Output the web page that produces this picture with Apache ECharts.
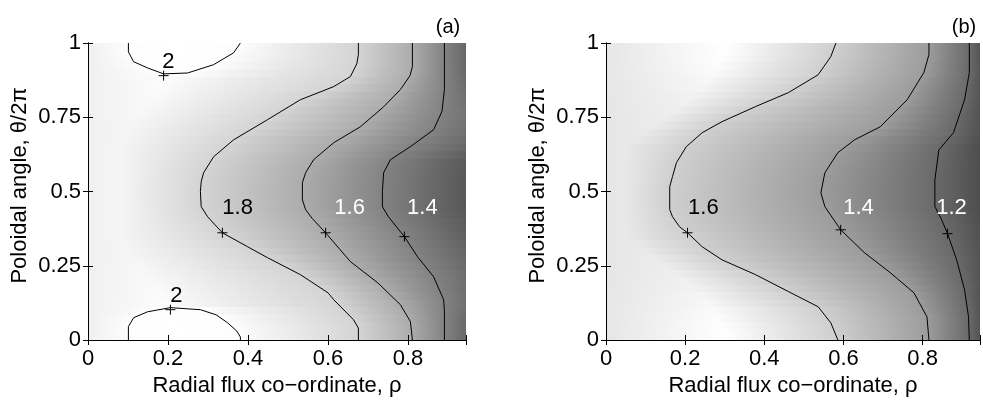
<!DOCTYPE html>
<html>
<head>
<meta charset="utf-8">
<script src="https://cdn.jsdelivr.net/npm/echarts@6/dist/echarts.min.js"></script>
<style>
  html, body { margin: 0; padding: 0; background: #fff; }
  #chart { width: 983px; height: 405px; }
</style>
</head>
<body>
<div id="chart"></div>
<script>
// Poloidal rows (theta / 2pi) at which the radial profiles are tabulated
const thetaRows = [0, 0.025, 0.05, 0.075, 0.1, 0.125, 0.15, 0.175, 0.2, 0.225, 0.25, 0.275, 0.3, 0.325,
                   0.35, 0.375, 0.4, 0.425, 0.45, 0.475, 0.5, 0.525, 0.55, 0.575, 0.6, 0.625, 0.65,
                   0.675, 0.7, 0.725, 0.75, 0.775, 0.8, 0.825, 0.85, 0.875, 0.9, 0.925, 0.95, 0.975, 1];
const ROW_STEP = 0.025;
const RHO_MAX = 0.945;

// ---------- panel (a) ----------
// value on the axis, off-axis maximum (position and value), crossings of each contour level, edge value
const aLeft    = [1.935,1.935,1.935,1.935,1.935,1.935,1.935,1.935,1.935,1.935,1.935,1.935,1.935,1.935,1.935,1.935,1.935,1.935,1.935,1.935,1.935,
                  1.935,1.935,1.935,1.935,1.935,1.935,1.935,1.935,1.935,1.935,1.935,1.935,1.935,1.935,1.935,1.935,1.935,1.935,1.935,1.935];
const aPeakRho = [0.22,0.22,0.21,0.205,0.2,0.19,0.18,0.165,0.15,0.135,0.12,0.11,0.1,0.09,
                  0.08,0.08,0.08,0.08,0.08,0.08,0.08,0.08,0.08,0.08,0.08,0.08,0.08,
                  0.09,0.1,0.11,0.12,0.135,0.15,0.165,0.18,0.19,0.215,0.22,0.22,0.22,0.22];
const aPeakVal = [2.05,2.05,2.04,2.025,2.01,1.995,1.99,1.985,1.98,1.975,1.97,1.965,1.96,1.96,
                  1.96,1.96,1.96,1.96,1.96,1.96,1.96,1.96,1.96,1.96,1.96,1.96,1.96,
                  1.96,1.96,1.965,1.97,1.975,1.98,1.985,1.99,1.995,2.005,2.025,2.04,2.05,2.05];
const a20In    = [0.101,0.101,0.103,0.114,0.169,null,null,null,null,null,null,null,null,null,null,null,null,null,null,null,null,
                  null,null,null,null,null,null,null,null,null,null,null,null,null,null,null,0.181,0.134,0.109,0.101,0.101];
const a20Out   = [0.381,0.374,0.355,0.331,0.286,null,null,null,null,null,null,null,null,null,null,null,null,null,null,null,null,
                  null,null,null,null,null,null,null,null,null,null,null,null,null,null,null,0.251,0.311,0.343,0.368,0.381];
const aRho18   = [0.676,0.676,0.672,0.659,0.640,0.622,0.605,0.582,0.554,0.524,0.488,0.452,0.418,0.384,0.351,0.326,0.309,0.294,0.283,0.282,0.281,
                  0.282,0.286,0.295,0.306,0.321,0.343,0.365,0.396,0.428,0.459,0.489,0.52,0.561,0.608,0.641,0.661,0.670,0.675,0.676,0.676];
const aRho16   = [0.811,0.809,0.807,0.800,0.789,0.776,0.757,0.738,0.717,0.693,0.669,0.649,0.633,0.617,0.601,0.584,0.567,0.552,0.541,0.536,0.536,
                  0.536,0.541,0.549,0.561,0.580,0.602,0.628,0.659,0.687,0.709,0.730,0.750,0.768,0.785,0.797,0.807,0.811,0.811,0.811,0.811];
const aRho14   = [0.891,0.891,0.891,0.891,0.891,0.890,0.884,0.876,0.868,0.857,0.842,0.827,0.814,0.802,0.790,0.775,0.760,0.747,0.736,0.736,0.736,
                  0.737,0.738,0.744,0.753,0.776,0.805,0.830,0.856,0.870,0.878,0.885,0.887,0.890,0.891,0.891,0.891,0.891,0.891,0.891,0.891];
const aRight   = [1.265,1.268,1.271,1.281,1.294,1.304,1.304,1.300,1.298,1.293,1.281,1.267,1.255,1.245,1.236,1.222,1.208,1.197,1.186,1.191,1.191,
                  1.192,1.19,1.194,1.20,1.228,1.262,1.286,1.31,1.318,1.321,1.323,1.315,1.31,1.298,1.285,1.271,1.265,1.265,1.265,1.265];

// contour lines of panel (a), [rho, theta/2pi]
const aLine20Low = [[0.101,0],[0.101,0.045],[0.114,0.075],[0.149,0.095],[0.206,0.109],[0.281,0.102],[0.32,0.085],[0.348,0.059],[0.372,0.03],[0.381,0.01],[0.381,0]];
const aLine20Up  = [[0.101,1],[0.101,0.97],[0.114,0.937],[0.149,0.916],[0.189,0.896],[0.249,0.899],[0.314,0.927],[0.364,0.967],[0.381,1]];
const aLine18 = [[0.676,0],[0.676,0.04],[0.664,0.068],[0.614,0.136],[0.60,0.159],[0.531,0.22],[0.449,0.277],[0.399,0.314],[0.336,0.361],[0.299,0.415],[0.283,0.449],[0.281,0.5],[0.283,0.533],[0.289,0.563],[0.314,0.617],[0.364,0.674],[0.449,0.742],[0.531,0.809],[0.614,0.853],[0.656,0.887],[0.672,0.93],[0.676,0.961],[0.676,1]];
const aLine16 = [[0.811,0],[0.806,0.062],[0.781,0.119],[0.724,0.193],[0.656,0.264],[0.594,0.361],[0.56,0.41],[0.544,0.439],[0.536,0.472],[0.536,0.53],[0.544,0.563],[0.564,0.607],[0.614,0.664],[0.681,0.718],[0.739,0.785],[0.781,0.843],[0.805,0.89],[0.811,0.92],[0.811,1]];
const aLine14 = [[0.891,0],[0.891,0.1],[0.889,0.136],[0.864,0.213],[0.824,0.28],[0.791,0.348],[0.751,0.415],[0.736,0.449],[0.736,0.5],[0.739,0.563],[0.756,0.607],[0.806,0.651],[0.864,0.708],[0.885,0.77],[0.891,0.843],[0.891,1]];

// contour label marks and texts of panel (a)
const aMarkRho    = [0.189, 0.206, 0.336, 0.594, 0.791];
const aMarkTheta  = [0.89, 0.102, 0.361, 0.361, 0.348];
const aLabelText  = ['2', '2', '1.8', '1.6', '1.4'];
const aLabelRho   = [0.201, 0.221, 0.374, 0.654, 0.836];
const aLabelTheta = [0.937, 0.149, 0.445, 0.445, 0.445];

// ---------- panel (b) ----------
const bLeft    = [1.69,1.69,1.69,1.69,1.69,1.69,1.69,1.69,1.69,1.69,1.69,1.69,1.69,1.69,1.69,1.69,1.69,1.69,1.69,1.69,1.69,
                  1.69,1.69,1.69,1.69,1.69,1.69,1.69,1.69,1.69,1.69,1.69,1.69,1.69,1.69,1.69,1.69,1.69,1.69,1.69,1.69];
const bPeakRho = [0.30,0.30,0.29,0.28,0.27,0.255,0.24,0.22,0.2,0.175,0.15,0.125,0.1,0.075,
                  0.05,0.05,0.05,0.05,0.05,0.05,0.05,0.05,0.05,0.05,0.05,0.05,0.05,
                  0.075,0.1,0.125,0.15,0.175,0.2,0.22,0.24,0.255,0.27,0.28,0.29,0.30,0.30];
const bPeakVal = [1.79,1.79,1.785,1.778,1.77,1.76,1.75,1.74,1.73,1.722,1.715,1.71,1.705,1.702,
                  1.70,1.70,1.70,1.70,1.70,1.70,1.70,1.70,1.70,1.70,1.70,1.70,1.70,
                  1.702,1.705,1.71,1.715,1.722,1.73,1.74,1.75,1.76,1.77,1.778,1.785,1.79,1.79];
const bRho16   = [0.586,0.578,0.570,0.558,0.543,0.517,0.480,0.444,0.407,0.370,0.327,0.287,0.259,0.234,0.215,0.192,0.176,0.165,0.161,0.161,0.161,
                  0.163,0.168,0.173,0.179,0.191,0.203,0.223,0.246,0.279,0.318,0.360,0.403,0.447,0.482,0.514,0.540,0.553,0.566,0.574,0.581];
const bRho14   = [0.816,0.814,0.813,0.811,0.802,0.792,0.782,0.764,0.742,0.720,0.696,0.671,0.648,0.629,0.609,0.591,0.578,0.565,0.553,0.547,0.543,
                  0.547,0.551,0.559,0.571,0.583,0.605,0.629,0.666,0.698,0.717,0.736,0.754,0.768,0.780,0.791,0.803,0.808,0.814,0.816,0.816];
const bRho12   = [0.918,0.917,0.917,0.916,0.914,0.911,0.908,0.905,0.900,0.895,0.890,0.885,0.878,0.872,0.865,0.858,0.850,0.840,0.831,0.831,0.831,
                  0.831,0.832,0.835,0.837,0.840,0.847,0.863,0.878,0.885,0.891,0.897,0.904,0.908,0.911,0.915,0.918,0.918,0.918,0.918,0.918];
const bRight   = [1.117,1.116,1.116,1.115,1.115,1.113,1.111,1.113,1.113,1.113,1.113,1.114,1.112,1.11,1.108,1.105,1.10,1.094,1.088,1.09,1.091,
                  1.09,1.09,1.09,1.089,1.089,1.089,1.10,1.107,1.106,1.108,1.11,1.115,1.117,1.118,1.122,1.123,1.121,1.118,1.117,1.117];

const bLine16 = [[0.586,0],[0.568,0.058],[0.536,0.112],[0.461,0.163],[0.378,0.22],[0.293,0.27],[0.243,0.314],[0.206,0.361],[0.186,0.381],[0.168,0.415],[0.161,0.439],[0.161,0.516],[0.168,0.55],[0.178,0.597],[0.203,0.651],[0.243,0.698],[0.293,0.735],[0.378,0.786],[0.461,0.833],[0.536,0.893],[0.568,0.954],[0.581,1]];
const bLine14 = [[0.816,0],[0.811,0.078],[0.778,0.159],[0.718,0.227],[0.653,0.294],[0.593,0.371],[0.553,0.449],[0.543,0.496],[0.553,0.563],[0.586,0.631],[0.628,0.674],[0.693,0.718],[0.761,0.809],[0.803,0.9],[0.816,0.961],[0.816,1]];
const bLine12 = [[0.918,0],[0.916,0.078],[0.906,0.169],[0.886,0.27],[0.863,0.358],[0.848,0.405],[0.831,0.449],[0.831,0.539],[0.841,0.64],[0.878,0.698],[0.906,0.809],[0.918,0.9],[0.918,1]];

const bMarkRho    = [0.206, 0.593, 0.863];
const bMarkTheta  = [0.361, 0.371, 0.358];
const bLabelText  = ['1.6', '1.4', '1.2'];
const bLabelRho   = [0.246, 0.638, 0.873];
const bLabelTheta = [0.445, 0.445, 0.445];

// tick values
const rhoTicks = [0, 0.2, 0.4, 0.6, 0.8];
const thetaTicks = [0, 0.25, 0.5, 0.75, 1];

const FONT = '"Liberation Sans", Arial, Helvetica, sans-serif';
const FS = 22;

// gray colour maps
function grayHex(g) {
  g = Math.max(0, Math.min(255, Math.round(g)));
  const h = g.toString(16).padStart(2, '0');
  return '#' + h + h + h;
}
const grayA = v => grayHex(245 + (v - 1.96) * 204);
const grayB = v => grayHex(255 + (v - 1.79) * 253);

// assemble radial knots [rho, value] for each poloidal row
function buildRows(left, peakRho, peakVal, ringIn, ringOut, ringVal, levels, right) {
  return thetaRows.map((t, i) => {
    const k = [[0, left[i]], [peakRho[i], peakVal[i]]];
    if (ringIn && ringIn[i] != null) { k.push([ringIn[i], ringVal]); k.push([ringOut[i], ringVal]); }
    levels.forEach(([val, arr]) => k.push([arr[i], val]));
    k.push([RHO_MAX, right[i]]);
    k.sort((p, q) => p[0] - q[0]);
    return k;
  });
}
const rowsA = buildRows(aLeft, aPeakRho, aPeakVal, a20In, a20Out, 2.0,
                        [[1.8, aRho18], [1.6, aRho16], [1.4, aRho14]], aRight);
const rowsB = buildRows(bLeft, bPeakRho, bPeakVal, null, null, 0,
                        [[1.6, bRho16], [1.4, bRho14], [1.2, bRho12]], bRight);

// each poloidal row is a band shaded along rho by its knots
function fillSeries(idx, rows, gray) {
  return {
    type: 'custom', xAxisIndex: idx * 2, yAxisIndex: idx * 2, clip: true, silent: true, z: 1,
    animation: false,
    data: thetaRows.map(t => [0, t]),
    renderItem(params, api) {
      const i = params.dataIndex;
      const t = thetaRows[i];
      const lo = Math.max(0, t - ROW_STEP / 2), hi = Math.min(1, t + ROW_STEP / 2);
      const p0 = api.coord([0, hi]);
      const p1 = api.coord([RHO_MAX, lo]);
      const stops = rows[i].map(k => ({ offset: Math.max(0, Math.min(1, k[0] / RHO_MAX)), color: gray(k[1]) }));
      return {
        type: 'rect',
        shape: { x: p0[0], y: p0[1] - 0.5, width: p1[0] - p0[0], height: p1[1] - p0[1] + 1 },
        style: { fill: new echarts.graphic.LinearGradient(0, 0, 1, 0, stops) }
      };
    }
  };
}

function contour(idx, pts) {
  return {
    type: 'line', xAxisIndex: idx * 2, yAxisIndex: idx * 2, data: pts,
    showSymbol: false, symbol: 'none', clip: true, silent: true, z: 3, animation: false,
    lineStyle: { color: '#000', width: 1 }
  };
}

function marks(idx, rho, theta) {
  return {
    type: 'custom', xAxisIndex: idx * 2, yAxisIndex: idx * 2, silent: true, z: 4, animation: false,
    data: rho.map((r, i) => [r, theta[i]]),
    renderItem(params, api) {
      const p = api.coord([api.value(0), api.value(1)]);
      const s = 5;
      const st = { stroke: '#000', lineWidth: 1 };
      return {
        type: 'group', children: [
          { type: 'line', shape: { x1: p[0] - s, y1: p[1], x2: p[0] + s, y2: p[1] }, style: st },
          { type: 'line', shape: { x1: p[0], y1: p[1] - s, x2: p[0], y2: p[1] + s }, style: st }
        ]
      };
    }
  };
}

function labels(idx, rho, theta, texts, colors) {
  return {
    type: 'custom', xAxisIndex: idx * 2, yAxisIndex: idx * 2, silent: true, z: 5, animation: false,
    data: rho.map((r, i) => [r, theta[i]]),
    renderItem(params, api) {
      const p = api.coord([api.value(0), api.value(1)]);
      return {
        type: 'text', x: p[0], y: p[1],
        style: { text: texts[params.dataIndex], fill: colors[params.dataIndex],
                 font: FS + 'px ' + FONT, align: 'center', verticalAlign: 'middle' }
      };
    }
  };
}

const grids = [
  { left: 88, top: 43, width: 378, height: 297 },
  { left: 606, top: 43, width: 376, height: 297 }
];

const axisLineStyle = { lineStyle: { color: '#000', width: 1 } };
const tickStyle = { inside: true, length: 5, lineStyle: { color: '#000', width: 1 } };

const xAxes = [], yAxes = [];
[0, 1].forEach(g => {
  xAxes.push({
    gridIndex: g, type: 'value', min: 0, max: RHO_MAX, interval: 0.2, position: 'bottom', z: 10,
    name: 'Radial flux co\u2212ordinate, \u03c1', nameLocation: 'middle', nameGap: 35,
    nameTextStyle: { color: '#000', fontSize: FS, fontFamily: FONT },
    axisLine: axisLineStyle, axisTick: tickStyle, splitLine: { show: false },
    axisLabel: { color: '#000', fontSize: FS, fontFamily: FONT, margin: 8,
                 formatter: v => rhoTicks.includes(Math.round(v * 10) / 10) ? String(Math.round(v * 10) / 10) : '' }
  });
  xAxes.push({
    gridIndex: g, type: 'value', min: 0, max: RHO_MAX, interval: 0.2, position: 'top', z: 10,
    axisLine: axisLineStyle, axisTick: tickStyle, splitLine: { show: false }, axisLabel: { show: false }
  });
  yAxes.push({
    gridIndex: g, type: 'value', min: 0, max: 1, interval: 0.25, position: 'left', z: 10,
    name: 'Poloidal angle, \u03b8/2\u03c0', nameLocation: 'middle', nameGap: 57,
    nameTextStyle: { color: '#000', fontSize: FS, fontFamily: FONT, padding: [0, 0, 0, 12] },
    axisLine: axisLineStyle, axisTick: tickStyle, splitLine: { show: false },
    axisLabel: { color: '#000', fontSize: FS, fontFamily: FONT, margin: 7,
                 formatter: v => thetaTicks.includes(v) ? String(v) : '' }
  });
  yAxes.push({
    gridIndex: g, type: 'value', min: 0, max: 1, interval: 0.25, position: 'right', z: 10,
    axisLine: axisLineStyle, axisTick: tickStyle, splitLine: { show: false }, axisLabel: { show: false }
  });
});

const series = [
  fillSeries(0, rowsA, grayA),
  contour(0, aLine20Low), contour(0, aLine20Up), contour(0, aLine18), contour(0, aLine16), contour(0, aLine14),
  marks(0, aMarkRho, aMarkTheta),
  labels(0, aLabelRho, aLabelTheta, aLabelText, ['#000', '#000', '#000', '#fff', '#fff']),
  fillSeries(1, rowsB, grayB),
  contour(1, bLine16), contour(1, bLine14), contour(1, bLine12),
  marks(1, bMarkRho, bMarkTheta),
  labels(1, bLabelRho, bLabelTheta, bLabelText, ['#000', '#fff', '#fff'])
];

const chart = echarts.init(document.getElementById('chart'), null, { renderer: 'canvas' });
chart.setOption({
  animation: false,
  backgroundColor: '#fff',
  grid: grids,
  xAxis: xAxes,
  yAxis: yAxes,
  series: series,
  graphic: [
    { type: 'text', x: 448, y: 27, style: { text: '(a)', font: '20px ' + FONT, fill: '#000', align: 'center', verticalAlign: 'middle' } },
    { type: 'text', x: 964, y: 27, style: { text: '(b)', font: '20px ' + FONT, fill: '#000', align: 'center', verticalAlign: 'middle' } }
  ]
});
</script>
</body>
</html>
